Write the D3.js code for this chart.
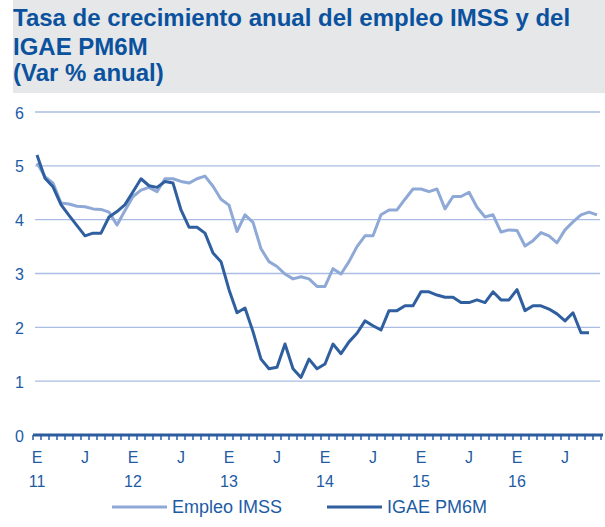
<!DOCTYPE html>
<html>
<head>
<meta charset="utf-8">
<script src="https://cdn.jsdelivr.net/npm/d3@7"></script>
<style>
  body { margin: 0; background: #fff; }
  svg { display: block; font-family: "Liberation Sans", Arial, sans-serif; }
</style>
</head>
<body>
<div id="chart"></div>
<script>
// Chart size
const width = 605, height = 527;

// Months Jan 2011 .. Nov 2016 (E = enero, J = julio)
const monthLabels = ["E", "F", "M", "A", "M", "J", "J", "A", "S", "O", "N", "D"];
const years = ["11", "12", "13", "14", "15", "16"];
const months = [];
years.forEach(y => monthLabels.forEach((m, i) => months.push(y + "-" + (i + 1))));
months.splice(71);

// Empleo IMSS, Var % anual
const imss = [5.05, 4.80, 4.68, 4.31, 4.29, 4.25, 4.24, 4.20, 4.19, 4.14, 3.90, 4.17,
  4.43, 4.55, 4.60, 4.52, 4.76, 4.76, 4.71, 4.68, 4.76, 4.81, 4.62, 4.38,
  4.27, 3.78, 4.09, 3.95, 3.46, 3.22, 3.13, 2.99, 2.90, 2.94, 2.90, 2.76,
  2.76, 3.09, 2.99, 3.22, 3.50, 3.70, 3.70, 4.09, 4.18, 4.18, 4.38, 4.57,
  4.57, 4.52, 4.57, 4.20, 4.43, 4.43, 4.51, 4.23, 4.05, 4.09, 3.77, 3.81,
  3.80, 3.51, 3.61, 3.76, 3.70, 3.57, 3.81, 3.96, 4.09, 4.14, 4.09];

// IGAE PM6M, Var % anual
const igae = [5.20, 4.77, 4.61, 4.28, 4.08, 3.89, 3.70, 3.75, 3.75, 4.05, 4.15, 4.28,
  4.52, 4.76, 4.63, 4.60, 4.71, 4.68, 4.18, 3.86, 3.86, 3.75, 3.38, 3.22,
  2.70, 2.27, 2.36, 1.92, 1.41, 1.23, 1.26, 1.69, 1.23, 1.07, 1.41, 1.23,
  1.32, 1.69, 1.51, 1.73, 1.89, 2.12, 2.03, 1.95, 2.31, 2.31, 2.40, 2.40,
  2.66, 2.66, 2.60, 2.56, 2.56, 2.46, 2.46, 2.51, 2.46, 2.66, 2.51, 2.51,
  2.70, 2.31, 2.40, 2.40, 2.34, 2.25, 2.12, 2.27, 1.90, 1.90];

const yTicks = [0, 1, 2, 3, 4, 5, 6];
const titleLines = ["Tasa de crecimiento anual del empleo IMSS y del", "IGAE PM6M", "(Var % anual)"];
const seriesNames = ["Empleo IMSS", "IGAE PM6M"];

const colors = { title: "#0b529e", text: "#1d5ba5", grid: "#aabde4", axis: "#2c5c9d",
  imss: "#8fa9d7", igae: "#2f5f9f", band: "#e6e7e9" };

const svg = d3.select("#chart").append("svg")
  .attr("width", width)
  .attr("height", height);

// Title band
svg.append("rect")
  .attr("x", 13).attr("y", 0)
  .attr("width", width - 13).attr("height", 93)
  .attr("fill", colors.band);

svg.append("g").selectAll("text")
  .data(titleLines)
  .enter().append("text")
  .attr("x", 13)
  .attr("y", (d, i) => [26, 55, 81][i])
  .attr("fill", colors.title)
  .style("font-size", "24px")
  .style("font-weight", "bold")
  .text(d => d);

// Scales
const x = d3.scalePoint().domain(months).range([37, 597]);
const y = d3.scaleLinear().domain([0, 6]).range([435, 112]);
const step = x.step();

// Gridlines
svg.append("g").selectAll("line")
  .data(yTicks.filter(d => d > 0))
  .enter().append("line")
  .attr("x1", 35).attr("x2", 600)
  .attr("y1", d => y(d)).attr("y2", d => y(d))
  .attr("stroke", colors.grid)
  .attr("stroke-width", 1.3);

// Y labels
svg.append("g").selectAll("text")
  .data(yTicks)
  .enter().append("text")
  .attr("x", 24)
  .attr("y", d => y(d) + 1)
  .attr("dy", "0.35em")
  .attr("text-anchor", "end")
  .attr("fill", colors.text)
  .style("font-size", "16px")
  .text(d => d);

// Lines
const line = d3.line()
  .x((d, i) => x(months[i]))
  .y(d => y(d));

svg.append("path")
  .datum(imss)
  .attr("d", line)
  .attr("fill", "none")
  .attr("stroke", colors.imss)
  .attr("stroke-width", 3)
  .attr("stroke-linejoin", "round");

svg.append("path")
  .datum(igae)
  .attr("d", line)
  .attr("fill", "none")
  .attr("stroke", colors.igae)
  .attr("stroke-width", 3)
  .attr("stroke-linejoin", "round");

// X axis line with monthly ticks
const tickPos = d3.range(months.length + 1).map(i => x(months[0]) - step / 2 + i * step);
svg.append("g").selectAll("line")
  .data(tickPos)
  .enter().append("line")
  .attr("x1", d => d).attr("x2", d => d)
  .attr("y1", 435).attr("y2", 440)
  .attr("stroke", colors.axis)
  .attr("stroke-width", 1.5);

svg.append("line")
  .attr("x1", 33).attr("x2", 603)
  .attr("y1", 435).attr("y2", 435)
  .attr("stroke", colors.axis)
  .attr("stroke-width", 3);

// X labels: E / J every six months, year under each E
const labelMonths = months.filter((m, i) => i % 6 === 0);
svg.append("g").selectAll("text")
  .data(labelMonths)
  .enter().append("text")
  .attr("x", d => x(d))
  .attr("y", 463)
  .attr("text-anchor", "middle")
  .attr("fill", colors.text)
  .style("font-size", "16px")
  .text((d, i) => i % 2 === 0 ? "E" : "J");

svg.append("g").selectAll("text")
  .data(years)
  .enter().append("text")
  .attr("x", (d, i) => x(months[i * 12]))
  .attr("y", 487)
  .attr("text-anchor", "middle")
  .attr("fill", colors.text)
  .style("font-size", "16px")
  .text(d => d);

// Legend
const legend = svg.append("g").selectAll("g")
  .data(seriesNames)
  .enter().append("g")
  .attr("transform", (d, i) => `translate(${[112, 327][i]}, 507)`);

legend.append("line")
  .attr("x1", 0).attr("x2", 55)
  .attr("stroke", (d, i) => i === 0 ? colors.imss : colors.igae)
  .attr("stroke-width", 3);

legend.append("text")
  .attr("x", 60)
  .attr("dy", "0.35em")
  .attr("fill", colors.text)
  .style("font-size", "18px")
  .text(d => d);
</script>
</body>
</html>
